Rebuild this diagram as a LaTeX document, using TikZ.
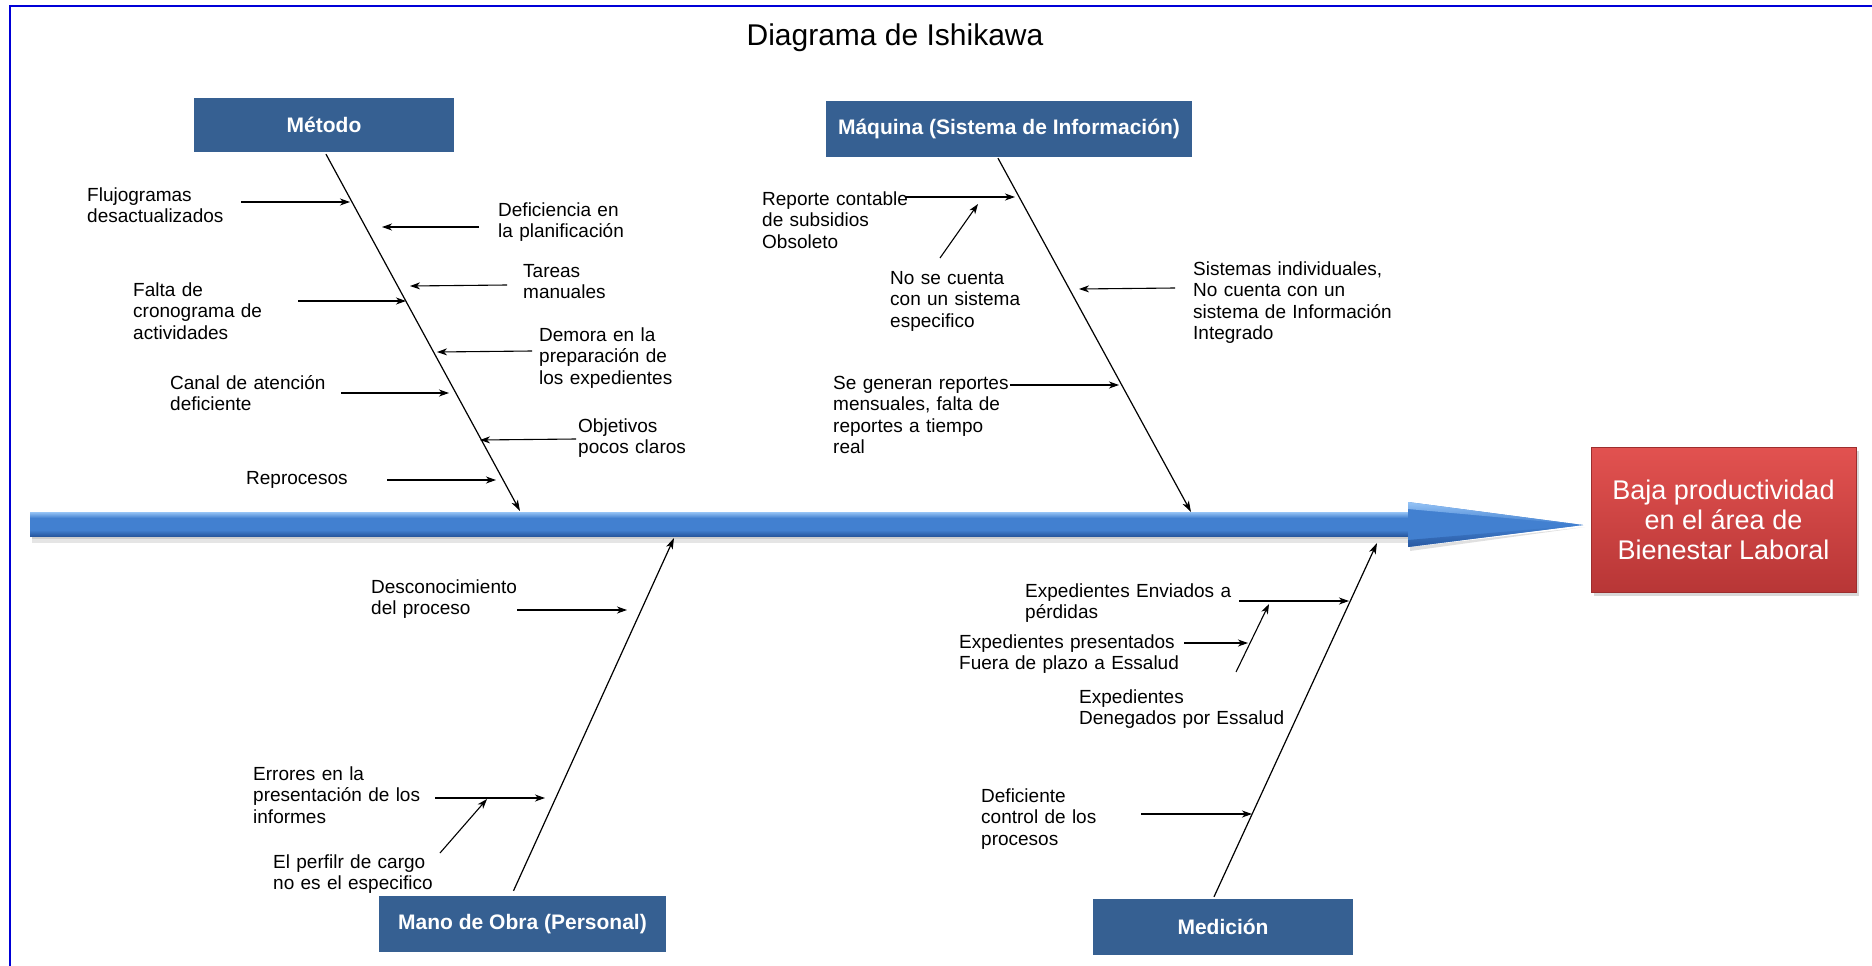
\documentclass[tikz,border=0pt]{standalone}
\usepackage{fontspec}
\setmainfont{Liberation Sans}
\usetikzlibrary{arrows.meta,calc,shadows}

\definecolor{frameblue}{RGB}{0,0,215}
\definecolor{catblue}{RGB}{54,96,146}
\definecolor{spinelight}{RGB}{150,196,246}
\definecolor{spinemid}{RGB}{66,128,208}
\definecolor{spinebot}{RGB}{40,88,160}
\definecolor{effecttop}{RGB}{226,82,80}
\definecolor{effectmid}{RGB}{214,66,64}
\definecolor{effectbot}{RGB}{184,54,54}

\begin{document}
\begin{tikzpicture}[x=1pt,y=-1pt,
  catbox/.style={fill=catblue, text=white, inner sep=0pt,
    font=\fontsize{21}{24}\selectfont\bfseries},
  causetext/.style={anchor=base west, inner sep=0pt, text width=330pt,
    align=left, font=\fontsize{19}{21.5}\selectfont},
  bone/.style={line width=1.2pt, -{Stealth[length=11pt,width=7pt,inset=3pt]}},
  cause/.style={line width=1.1pt, -{Stealth[length=10pt,width=7pt,inset=3pt]}},
]
\useasboundingbox (0,0) rectangle (1872,966);
\fill[white] (0,0) rectangle (1872,966);

% page frame (top and left rules)
\draw[frameblue, line width=2.6pt] (10,966) -- (10,6) -- (1872,6);

% title
\node[font=\fontsize{30}{34}\selectfont, anchor=base, inner sep=0pt] (title) at (895,46) {Diagrama de Ishikawa};

% spine: soft shadow, shaft and head
\fill[black, opacity=0.10] (32,536) rectangle (1410,543);
\fill[black, opacity=0.10] (32,536) rectangle (1410,539);
\fill[spinemid] (30,512) rectangle (1410,536);
\shade[top color=spinelight, bottom color=spinemid] (30,512) rectangle (1410,518);
\shade[top color=spinemid, bottom color=spinebot] (30,530) rectangle (1410,536);
\fill[black, opacity=0.12] (1410,547) -- (1585,527) -- (1410,551) -- cycle;
\fill[spinemid] (1408,502) -- (1583,525) -- (1408,547) -- cycle;
\shade[top color=spinelight, bottom color=spinemid] (1408,502) -- (1583,525) -- (1408,509) -- cycle;
\shade[top color=spinemid, bottom color=spinebot] (1408,540) -- (1583,525) -- (1408,547) -- cycle;
\coordinate (spinetip) at (1583,525);

% effect
\node[minimum width=265pt, minimum height=145pt, inner sep=0pt,
  top color=effecttop, middle color=effectmid, bottom color=effectbot,
  draw=effectbot!85!black, line width=0.6pt,
  drop shadow={opacity=0.30, shadow xshift=3pt, shadow yshift=-4pt},
  text=white, align=center, font=\fontsize{27}{30}\selectfont]
  (effect) at (1723.5,519.5) {Baja productividad\\en el área de\\Bienestar Laboral};

% category boxes
\node[catbox, minimum width=260pt, minimum height=54pt] (metodo) at (324,125) {Método};
\node[catbox, minimum width=366pt, minimum height=56pt] (maquina) at (1009,129) {Máquina (Sistema de Información)};
\node[catbox, minimum width=287pt, minimum height=56pt] (manoobra) at (522.5,924) {Mano de Obra (Personal)};
\node[catbox, minimum width=260pt, minimum height=56pt] (medicion) at (1223,927) {Medición};

% bones
\coordinate (mtip) at (520,511);
\coordinate (qtip) at (1191,512);
\coordinate (otip) at (674,538);
\coordinate (dtip) at (1377,543);
\draw[bone] ($(metodo.south)+(2,2)$) -- (mtip);
\draw[bone] ($(maquina.south)+(-11,1)$) -- (qtip);
\draw[bone] ($(manoobra.north)+(-9,-5)$) -- (otip);
\draw[bone] ($(medicion.north)+(-9,-2)$) -- (dtip);

% ---- Método causes
\node[causetext] (c1) at (87,201) {Flujogramas\\desactualizados};
\coordinate (c1a) at (241,202); \coordinate (c1b) at (350,202);
\draw[cause] (c1a) -- (c1b);

\node[causetext] (c2) at (498,216) {Deficiencia en\\la planificación};
\coordinate (c2a) at (479,227); \coordinate (c2b) at (382,227);
\draw[cause] (c2a) -- (c2b);

\node[causetext] (c3) at (523,277) {Tareas\\manuales};
\coordinate (c3a) at (507,285); \coordinate (c3b) at (410,286);
\draw[cause] (c3a) -- (c3b);

\node[causetext] (c4) at (133,296) {Falta de\\cronograma de\\actividades};
\coordinate (c4a) at (298,301); \coordinate (c4b) at (406,301);
\draw[cause] (c4a) -- (c4b);

\node[causetext] (c5) at (539,341) {Demora en la\\preparación de\\los expedientes};
\coordinate (c5a) at (532,351); \coordinate (c5b) at (437,352);
\draw[cause] (c5a) -- (c5b);

\node[causetext] (c6) at (170,389) {Canal de atención\\deficiente};
\coordinate (c6a) at (341,393); \coordinate (c6b) at (449,393);
\draw[cause] (c6a) -- (c6b);

\node[causetext] (c7) at (578,432) {Objetivos\\pocos claros};
\coordinate (c7a) at (576,439); \coordinate (c7b) at (480,440);
\draw[cause] (c7a) -- (c7b);

\node[causetext] (c8) at (246,484) {Reprocesos};
\coordinate (c8a) at (387,480); \coordinate (c8b) at (496,480);
\draw[cause] (c8a) -- (c8b);

% ---- Máquina causes
\node[causetext] (q1) at (762,205) {Reporte contable\\de subsidios\\Obsoleto};
\coordinate (q1a) at (906,197); \coordinate (q1b) at (1015,197);
\draw[cause] (q1a) -- (q1b);

\node[causetext] (q2) at (890,284) {No se cuenta\\con un sistema\\especifico};
\coordinate (q2a) at (940,258); \coordinate (q2b) at (978,204);
\draw[cause] (q2a) -- (q2b);

\node[causetext] (q3) at (1193,275) {Sistemas individuales,\\No cuenta con un\\sistema de Información\\Integrado};
\coordinate (q3a) at (1175,288); \coordinate (q3b) at (1079,289);
\draw[cause] (q3a) -- (q3b);

\node[causetext] (q4) at (833,389) {Se generan reportes\\mensuales, falta de\\reportes a tiempo\\real};
\coordinate (q4a) at (1010,385); \coordinate (q4b) at (1119,385);
\draw[cause] (q4a) -- (q4b);

% ---- Mano de Obra causes
\node[causetext] (o1) at (371,593) {Desconocimiento\\del proceso};
\coordinate (o1a) at (517,610); \coordinate (o1b) at (627,610);
\draw[cause] (o1a) -- (o1b);

\node[causetext] (o2) at (253,780) {Errores en la\\presentación de los\\informes};
\coordinate (o2a) at (435,798); \coordinate (o2b) at (545,798);
\draw[cause] (o2a) -- (o2b);

\node[causetext] (o3) at (273,868) {El perfilr de cargo\\no es el especifico};
\coordinate (o3a) at (440,853); \coordinate (o3b) at (487,799);
\draw[cause] (o3a) -- (o3b);

% ---- Medición causes
\node[causetext] (d1) at (1025,597) {Expedientes Enviados a\\pérdidas};
\coordinate (d1a) at (1239,601); \coordinate (d1b) at (1349,601);
\draw[cause] (d1a) -- (d1b);

\node[causetext] (d2) at (959,648) {Expedientes presentados\\Fuera de plazo a Essalud};
\coordinate (d2a) at (1184,643); \coordinate (d2b) at (1248,643);
\draw[cause] (d2a) -- (d2b);
\coordinate (d2c) at (1236,672); \coordinate (d2d) at (1269,604);
\draw[cause] (d2c) -- (d2d);

\node[causetext] (d3) at (1079,703) {Expedientes\\Denegados por Essalud};

\node[causetext] (d4) at (981,802) {Deficiente\\control de los\\procesos};
\coordinate (d4a) at (1141,814); \coordinate (d4b) at (1252,814);
\draw[cause] (d4a) -- (d4b);

\end{tikzpicture}
\end{document}
